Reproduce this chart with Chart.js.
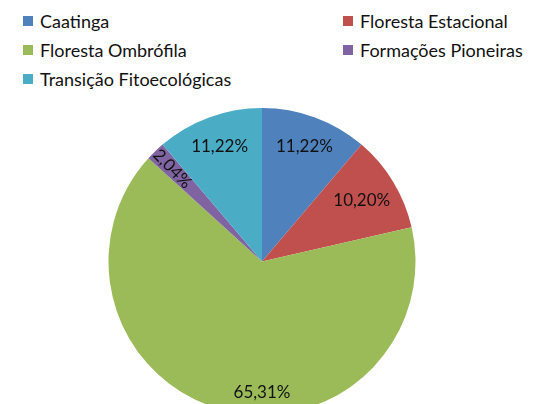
<!DOCTYPE html>
<html lang="pt">
<head>
    <meta charset="UTF-8">
    <title>Formações vegetais</title>
    <script src="https://cdn.jsdelivr.net/npm/chart.js"></script>
    <style>
        body {
            margin: 0;
            width: 542px;
            height: 404px;
            overflow: hidden;
            background: #fff;
            font-family: Lato, sans-serif;
            position: relative;
        }
        #legend {
            position: absolute;
            left: 23px;
            top: 6px;
            display: grid;
            grid-template-columns: 320px auto;
            grid-auto-rows: 29.3px;
            font-size: 18px;
            color: #111;
        }
        .item {
            display: flex;
            align-items: center;
            white-space: nowrap;
        }
        .box {
            width: 10px;
            height: 10px;
            margin-right: 7px;
        }
        .wrap {
            position: absolute;
            left: 0;
            top: 108px;
            width: 542px;
            height: 307px;
        }
    </style>
</head>
<body>
    <div id="legend"></div>
    <div class="wrap"><canvas id="pie"></canvas></div>

    <script>
        const categories = ["Caatinga", "Floresta Estacional", "Floresta Ombrófila", "Formações Pioneiras", "Transição Fitoecológicas"];
        const shares = [11.22, 10.20, 65.31, 2.04, 11.22];
        const colors = ["#4F81BD", "#C0504D", "#9BBB59", "#8064A2", "#4BACC6"];

        // legend in two columns, like the original
        let legendHtml = "";
        categories.forEach((c, i) => {
            legendHtml += `<div class="item"><span class="box" style="background:${colors[i]}"></span>${c}</div>`;
        });
        document.getElementById("legend").innerHTML = legendHtml;

        // percent labels on the slices
        const sliceLabels = {
            id: "sliceLabels",
            afterDatasetsDraw(chart) {
                const ctx = chart.ctx;
                const meta = chart.getDatasetMeta(0);
                ctx.save();
                ctx.font = "17px Lato, sans-serif";
                ctx.fillStyle = "#111";
                ctx.textAlign = "center";
                ctx.textBaseline = "middle";
                meta.data.forEach((arc, i) => {
                    const p = arc.getProps(["x", "y", "startAngle", "endAngle", "outerRadius"], true);
                    let mid = (p.startAngle + p.endAngle) / 2;
                    let dist = 0.8;
                    if (i === 2) { mid = Math.PI / 2; dist = 0.855; }   // big slice label sits straight down
                    if (i === 1) dist = 0.76;
                    if (i === 3) dist = 0.84;
                    const x = p.x + Math.cos(mid) * p.outerRadius * dist;
                    const y = p.y + Math.sin(mid) * p.outerRadius * dist;
                    const txt = shares[i].toFixed(2).replace(".", ",") + "%";
                    ctx.save();
                    ctx.translate(x, y);
                    if (i === 3) ctx.rotate(mid - Math.PI);  // thin slice: text along the radius
                    ctx.fillText(txt, 0, 0);
                    ctx.restore();
                });
                ctx.restore();
            }
        };

        new Chart(document.getElementById("pie"), {
            type: "pie",
            data: {
                labels: categories,
                datasets: [{ data: shares, backgroundColor: colors, borderWidth: 0 }]
            },
            options: {
                responsive: true,
                maintainAspectRatio: false,
                animation: false,
                layout: { padding: { left: 0, right: 18, top: 0, bottom: 0 } },
                plugins: {
                    legend: { display: false },
                    tooltip: { enabled: false }
                }
            },
            plugins: [sliceLabels]
        });
    </script>
</body>
</html>
